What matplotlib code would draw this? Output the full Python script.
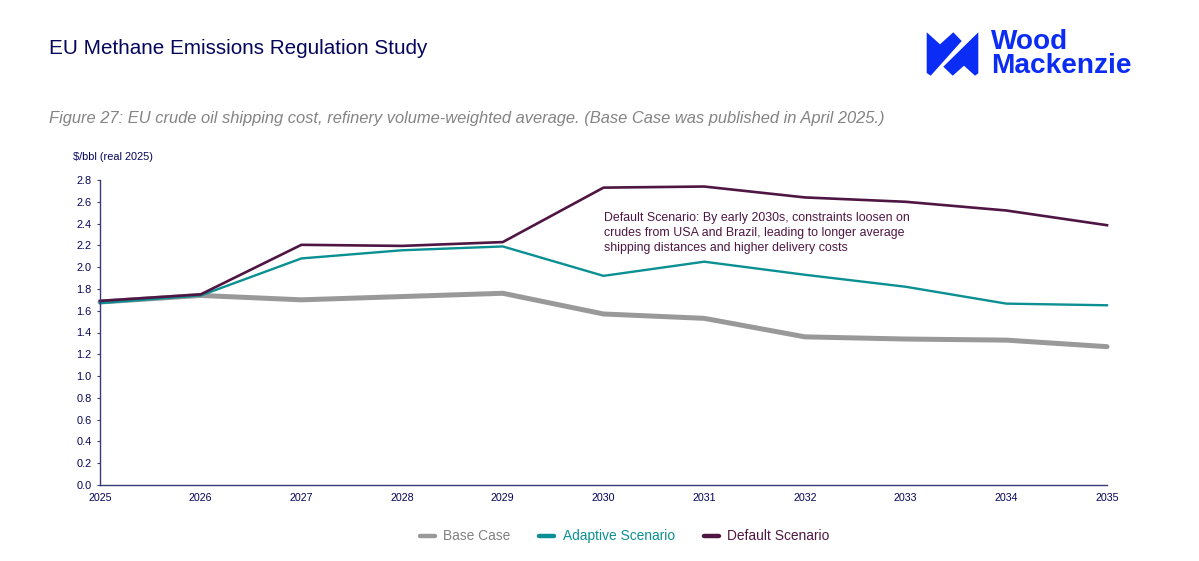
import matplotlib
matplotlib.use("Agg")
import matplotlib.pyplot as plt
from matplotlib.patches import Polygon
from matplotlib.transforms import Affine2D

plt.rcParams['font.family'] = ['Liberation Sans', 'DejaVu Sans']

years = [2025, 2026, 2027, 2028, 2029, 2030, 2031, 2032, 2033, 2034, 2035]
base_case = [1.68, 1.74, 1.70, 1.73, 1.76, 1.57, 1.53, 1.36, 1.34, 1.33, 1.27]
adaptive = [1.67, 1.74, 2.08, 2.155, 2.19, 1.92, 2.05, 1.93, 1.82, 1.665, 1.65]
default = [1.69, 1.75, 2.205, 2.195, 2.23, 2.73, 2.74, 2.64, 2.60, 2.52, 2.385]
y_ticks = [0.0, 0.2, 0.4, 0.6, 0.8, 1.0, 1.2, 1.4, 1.6, 1.8, 2.0, 2.2, 2.4, 2.6, 2.8]

NAVY = '#05055c'
GREY = '#999999'
TEAL = '#0a8f92'
PLUM = '#4f1643'
BLUE = '#0a2cf5'

W, H = 1199, 561
fig = plt.figure(figsize=(W / 100, H / 100), dpi=100)
ax = fig.add_axes([100 / W, (H - 485) / H, (1107 - 100) / W, (485 - 180) / H])

ax.plot(years, base_case, color=GREY, lw=3.6, label='Base Case', solid_capstyle='round')
ax.plot(years, adaptive, color=TEAL, lw=1.7, label='Adaptive Scenario')
ax.plot(years, default, color=PLUM, lw=1.9, label='Default Scenario')

ax.set_xlim(2025, 2035)
ax.set_ylim(0, 2.8)
ax.set_xticks(years)
ax.set_yticks(y_ticks)
ax.set_yticklabels([f'{v:.1f}' for v in y_ticks])
ax.tick_params(axis='y', length=2.5, width=0.8, color='#3a3a78', labelsize=7.9, labelcolor=NAVY, pad=3.5)
ax.tick_params(axis='x', length=0, labelsize=7.7, labelcolor=NAVY, pad=5.5)
for s in ['top', 'right']:
    ax.spines[s].set_visible(False)
for s in ['left', 'bottom']:
    ax.spines[s].set_color('#3a3a78')
    ax.spines[s].set_linewidth(1.0)
for line in ax.get_lines():
    line.set_clip_on(False)

ax.text(2030, 2.506, 'Default Scenario: By early 2030s, constraints loosen on\n'
        'crudes from USA and Brazil, leading to longer average\n'
        'shipping distances and higher delivery costs',
        color=PLUM, fontsize=8.93, va='top', ha='left', linespacing=1.33)

# header text, placed in pixels
px = Affine2D().scale(1 / W, -1 / H).translate(0, 1) + fig.transFigure
fig.text(49, 48, 'EU Methane Emissions Regulation Study', transform=px, color=NAVY,
         fontsize=14.9, va='center', ha='left')
fig.text(49, 118, 'Figure 27: EU crude oil shipping cost, refinery volume-weighted average. '
         '(Base Case was published in April 2025.)', transform=px, color='#848484',
         fontsize=11.93, style='italic', va='center', ha='left')
fig.text(73, 157, '$/bbl (real 2025)', transform=px, color=NAVY, fontsize=7.9,
         va='center', ha='left', parse_math=False)

# logo
left_shape = [(926.7, 32.3), (940, 44.3), (953.3, 32.3), (961.7, 41), (930.7, 75.7), (926.7, 73)]
right_shape = [(978.3, 32.3), (978.3, 73.3), (975, 75.7), (964, 65.7), (952.7, 75.7), (943.3, 66.7)]
for pts in (left_shape, right_shape):
    fig.add_artist(Polygon(pts, closed=True, transform=px, facecolor=BLUE, edgecolor='none'))
fig.text(991, 42, 'Wood', transform=px, color=BLUE, fontsize=20.2, weight='bold', va='center', ha='left')
fig.text(991, 66, 'Mackenzie', transform=px, color=BLUE, fontsize=20.2, weight='bold', va='center', ha='left')

leg = ax.legend(loc='upper center', bbox_to_anchor=(0.521, -0.105), ncol=3, frameon=False,
                fontsize=9.9, handlelength=1.1, columnspacing=2.1, handletextpad=0.6)
for h, txt, c in zip(leg.get_lines(), leg.get_texts(), [GREY, TEAL, PLUM]):
    h.set_linewidth(3.2)
    h.set_solid_capstyle('round')
    txt.set_color('#808080' if c == GREY else c)

fig.savefig('out.png', dpi=100)
